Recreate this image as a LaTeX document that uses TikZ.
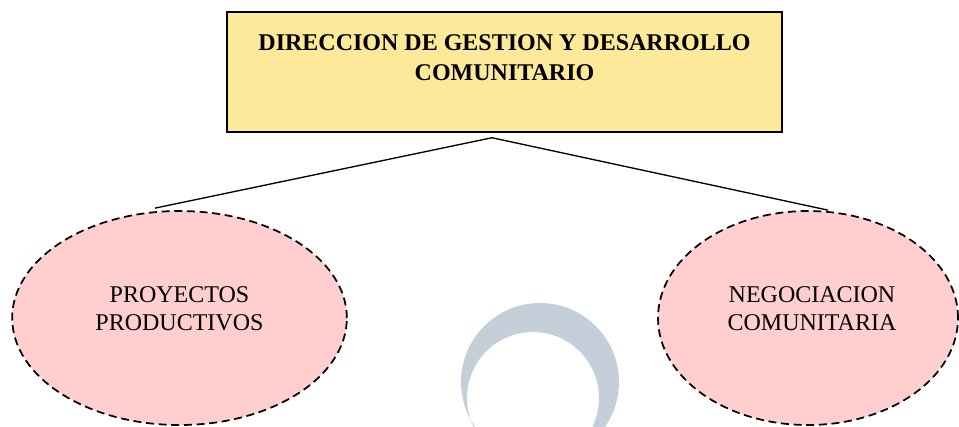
\documentclass[tikz,border=0pt]{standalone}
\usepackage{fontspec}
\setmainfont{Liberation Serif}
\usepackage{tikz}
\usetikzlibrary{positioning, shapes.geometric}

\definecolor{boxyellow}{RGB}{253,233,154}
\definecolor{ovalpink}{RGB}{255,206,206}
\definecolor{markgray}{RGB}{197,207,218}

\begin{document}
\begin{tikzpicture}[x=0.75pt, y=-0.75pt,
        dirbox/.style={draw=black, line width=1.1pt, fill=boxyellow, minimum width=416pt, minimum height=90pt, inner sep=0pt},
        dirtext/.style={font=\fontsize{18}{23}\selectfont\bfseries, align=center, inner sep=0pt},
        oval/.style={ellipse, draw=black, dash pattern=on 6pt off 3.5pt, line width=1.3pt, fill=ovalpink, inner sep=0pt, minimum height=160.5pt},
        ovaltext/.style={font=\fontsize{18}{21}\selectfont, align=center, inner sep=0pt},
        link/.style={line width=1pt}]
            \useasboundingbox (0,0) rectangle (959,426);
            % faint logo behind the chart
            \begin{scope}
                \clip (0,0) rectangle (959,426);
                \fill[markgray, even odd rule] (540,382) circle[radius=59.25pt] (533,398) circle[radius=49.5pt];
            \end{scope}

            \node[dirbox] (dir) at (504.5,72) {};
            \node[dirtext, below=17pt of dir.north] (dirtitle) {DIRECCION DE GESTION Y DESARROLLO\\COMUNITARIO};

            \node[oval, minimum width=251pt] (proy) at (179.5,318) {};
            \node[ovaltext] (proytext) at ([yshift=7pt]proy) {PROYECTOS\\PRODUCTIVOS};
            \node[oval, minimum width=225pt] (nego) at (808,318) {};
            \node[ovaltext] (negotext) at ([xshift=3pt, yshift=7pt]nego) {NEGOCIACION\\COMUNITARIA};

            \coordinate (fork) at ([xshift=-9.4pt, yshift=-3.75pt]dir.south);
            \draw[link] (fork) -- ([xshift=-18.4pt, yshift=1.5pt]proy.north);
            \draw[link] (fork) -- ([xshift=15pt]nego.north);
        \end{tikzpicture}
\end{document}
